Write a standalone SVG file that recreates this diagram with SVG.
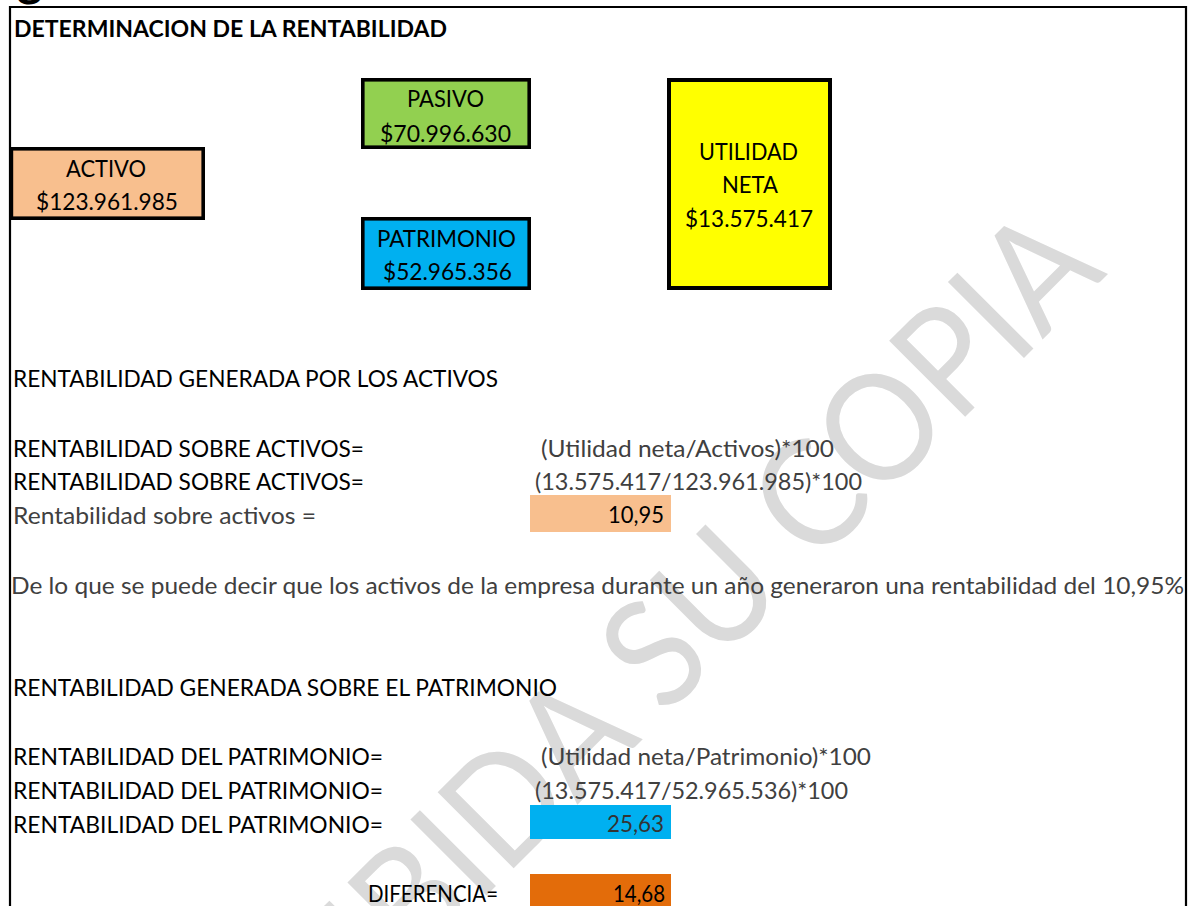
<svg xmlns="http://www.w3.org/2000/svg" width="1188" height="906" viewBox="0 0 1188 906">
<style>
text { font-family: Lato, "Liberation Sans", sans-serif; }
.t { font-size: 23.5px; fill: #000; }
.g { font-size: 23.5px; fill: #404040; }
.bx { font-size: 23.5px; fill: #000; text-anchor: middle; }
.v { font-size: 23.5px; text-anchor: end; }
.box { stroke: #000; stroke-width: 3.6; }
.wm { font-size: 150px; fill: #DADADA; }
</style>
<rect width="1188" height="906" fill="#FFFFFF"/>
<g id="watermark">
<text class="wm" transform="translate(115.5,1266.5) rotate(-45)" textLength="1404" lengthAdjust="spacingAndGlyphs">PROHIBIDA SU COPIA</text>
</g>
<text x="17" y="-4" font-size="48" font-weight="bold" fill="#000">g</text>
<path id="frame" d="M10,906 V7 H1186 V906" fill="none" stroke="#000" stroke-width="2.2"/>
<text x="14" y="37" font-size="22.5" font-weight="bold" fill="#000" textLength="433" lengthAdjust="spacingAndGlyphs">DETERMINACION DE LA RENTABILIDAD</text>
<g id="connectors"></g>
<g id="activo">
<rect class="box" x="11.4" y="148.8" width="191.8" height="69.4" fill="#F8BF8E"/>
<text class="bx" x="106" y="177" textLength="80" lengthAdjust="spacingAndGlyphs">ACTIVO</text>
<text class="bx" x="107" y="210" textLength="142" lengthAdjust="spacingAndGlyphs">$123.961.985</text>
</g>
<g id="pasivo">
<rect class="box" x="362.8" y="79.8" width="166.4" height="67.4" fill="#92D050"/>
<text class="bx" x="445.5" y="107" textLength="77" lengthAdjust="spacingAndGlyphs">PASIVO</text>
<text class="bx" x="445.5" y="141.5" textLength="131" lengthAdjust="spacingAndGlyphs">$70.996.630</text>
</g>
<g id="patrimonio">
<rect class="box" x="362.8" y="218.8" width="166.4" height="69.4" fill="#00B0F0"/>
<text class="bx" x="446.5" y="246.5" textLength="139" lengthAdjust="spacingAndGlyphs">PATRIMONIO</text>
<text class="bx" x="447.5" y="280" textLength="129" lengthAdjust="spacingAndGlyphs">$52.965.356</text>
</g>
<g id="utilidad">
<rect x="669" y="80" width="161" height="208" fill="#FFFF00" stroke="#000" stroke-width="4"/>
<text class="bx" x="748.5" y="160" textLength="99" lengthAdjust="spacingAndGlyphs">UTILIDAD</text>
<text class="bx" x="750" y="193" textLength="56" lengthAdjust="spacingAndGlyphs">NETA</text>
<text class="bx" x="749" y="227" textLength="128" lengthAdjust="spacingAndGlyphs">$13.575.417</text>
</g>
<g id="activos-section">
<text class="t" x="13" y="387" textLength="485" lengthAdjust="spacingAndGlyphs">RENTABILIDAD GENERADA POR LOS ACTIVOS</text>
<text class="t" x="13" y="457" textLength="351" lengthAdjust="spacingAndGlyphs">RENTABILIDAD SOBRE ACTIVOS=</text>
<text class="g" x="541" y="457" textLength="293" lengthAdjust="spacingAndGlyphs">(Utilidad neta/Activos)*100</text>
<text class="t" x="13" y="490" textLength="351" lengthAdjust="spacingAndGlyphs">RENTABILIDAD SOBRE ACTIVOS=</text>
<text class="g" x="535" y="490" textLength="327" lengthAdjust="spacingAndGlyphs">(13.575.417/123.961.985)*100</text>
<text class="g" x="13" y="524" textLength="303" lengthAdjust="spacingAndGlyphs">Rentabilidad sobre activos =</text>
</g>
<g id="cell-activos">
<rect x="530" y="495" width="141" height="37" fill="#F8BF8E"/>
<text class="v" x="664" y="523" fill="#000" textLength="56" lengthAdjust="spacingAndGlyphs">10,95</text>
</g>
<text class="g" x="11" y="594" textLength="1173" lengthAdjust="spacingAndGlyphs">De lo que se puede decir que los activos de la empresa durante un año generaron una rentabilidad del 10,95%</text>
<g id="patrimonio-section">
<text class="t" x="13" y="696" textLength="544" lengthAdjust="spacingAndGlyphs">RENTABILIDAD GENERADA SOBRE EL PATRIMONIO</text>
<text class="t" x="13" y="765" textLength="370" lengthAdjust="spacingAndGlyphs">RENTABILIDAD DEL PATRIMONIO=</text>
<text class="g" x="541" y="765" textLength="330" lengthAdjust="spacingAndGlyphs">(Utilidad neta/Patrimonio)*100</text>
<text class="t" x="13" y="799" textLength="370" lengthAdjust="spacingAndGlyphs">RENTABILIDAD DEL PATRIMONIO=</text>
<text class="g" x="535" y="799" textLength="313" lengthAdjust="spacingAndGlyphs">(13.575.417/52.965.536)*100</text>
<text class="t" x="13" y="833" textLength="370" lengthAdjust="spacingAndGlyphs">RENTABILIDAD DEL PATRIMONIO=</text>
</g>
<g id="cell-patrimonio">
<rect x="530" y="805" width="141" height="34" fill="#00B0F0"/>
<text class="v" x="664" y="832" fill="#333333" textLength="57" lengthAdjust="spacingAndGlyphs">25,63</text>
</g>
<g id="diferencia">
<text class="t" x="368" y="902" textLength="130" lengthAdjust="spacingAndGlyphs">DIFERENCIA=</text>
<rect x="530" y="874" width="141" height="34" fill="#E36C0A"/>
<text class="v" x="665" y="902" fill="#000" textLength="52" lengthAdjust="spacingAndGlyphs">14,68</text>
</g>
</svg>
